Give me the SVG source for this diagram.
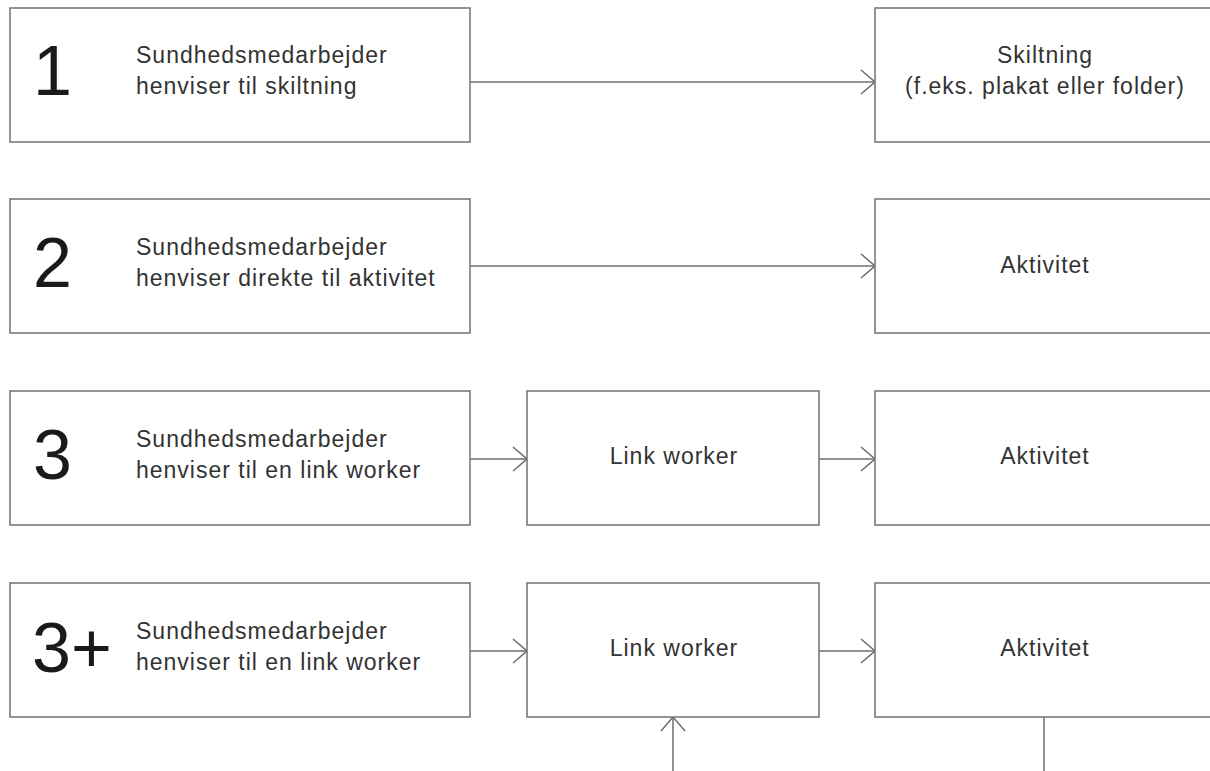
<svg xmlns="http://www.w3.org/2000/svg" width="1210" height="771" viewBox="0 0 1210 771">
<defs>
<style>
.box{fill:#fff;stroke:#7a7a7a;stroke-width:1.6}
.num{font-family:"Liberation Sans",Arial,sans-serif;font-size:70px;fill:#1a1a1a}
.lbl{font-family:"Liberation Sans",Arial,sans-serif;font-size:23px;letter-spacing:1px;fill:#333}
.mid{text-anchor:middle}
.con{fill:none;stroke:#6e6e6e;stroke-width:1.5}
</style>
<marker id="arr" viewBox="0 0 16 26" refX="15" refY="13" markerWidth="16" markerHeight="26" markerUnits="userSpaceOnUse" orient="auto">
<path d="M1,1 L15,13 L1,25" fill="none" stroke="#6e6e6e" stroke-width="1.5"/>
</marker>
</defs>
<rect width="1210" height="771" fill="#fff"/>

<g id="connectors">
<line class="con" x1="470" y1="82" x2="875" y2="82" marker-end="url(#arr)"/>
<line class="con" x1="470" y1="266" x2="875" y2="266" marker-end="url(#arr)"/>
<line class="con" x1="470" y1="459" x2="527" y2="459" marker-end="url(#arr)"/>
<line class="con" x1="819" y1="459" x2="875" y2="459" marker-end="url(#arr)"/>
<line class="con" x1="470" y1="651" x2="527" y2="651" marker-end="url(#arr)"/>
<line class="con" x1="819" y1="651" x2="875" y2="651" marker-end="url(#arr)"/>
<line class="con" x1="673" y1="771" x2="673" y2="717" marker-end="url(#arr)"/>
<line class="con" x1="1044" y1="717" x2="1044" y2="771"/>
</g>

<g id="n1">
<rect class="box" x="10" y="8" width="460" height="134"/>
<text class="num" x="33" y="95">1</text>
<text class="lbl" x="136" y="63">Sundhedsmedarbejder</text>
<text class="lbl" x="136" y="94">henviser til skiltning</text>
</g>
<g id="n1b">
<rect class="box" x="875" y="8" width="340" height="134"/>
<text class="lbl mid" x="1045" y="63">Skiltning</text>
<text class="lbl mid" x="1045" y="94">(f.eks. plakat eller folder)</text>
</g>

<g id="n2">
<rect class="box" x="10" y="199" width="460" height="134"/>
<text class="num" x="33" y="287">2</text>
<text class="lbl" x="136" y="255">Sundhedsmedarbejder</text>
<text class="lbl" x="136" y="286">henviser direkte til aktivitet</text>
</g>
<g id="n2b">
<rect class="box" x="875" y="199" width="340" height="134"/>
<text class="lbl mid" x="1045" y="273">Aktivitet</text>
</g>

<g id="n3">
<rect class="box" x="10" y="391" width="460" height="134"/>
<text class="num" x="33" y="479">3</text>
<text class="lbl" x="136" y="447">Sundhedsmedarbejder</text>
<text class="lbl" x="136" y="478">henviser til en link worker</text>
</g>
<g id="n3lw">
<rect class="box" x="527" y="391" width="292" height="134"/>
<text class="lbl mid" x="674" y="464">Link worker</text>
</g>
<g id="n3b">
<rect class="box" x="875" y="391" width="340" height="134"/>
<text class="lbl mid" x="1045" y="464">Aktivitet</text>
</g>

<g id="n4">
<rect class="box" x="10" y="583" width="460" height="134"/>
<text class="num" x="32" y="672" font-size="72">3+</text>
<text class="lbl" x="136" y="639">Sundhedsmedarbejder</text>
<text class="lbl" x="136" y="670">henviser til en link worker</text>
</g>
<g id="n4lw">
<rect class="box" x="527" y="583" width="292" height="134"/>
<text class="lbl mid" x="674" y="656">Link worker</text>
</g>
<g id="n4b">
<rect class="box" x="875" y="583" width="340" height="134"/>
<text class="lbl mid" x="1045" y="656">Aktivitet</text>
</g>
</svg>
